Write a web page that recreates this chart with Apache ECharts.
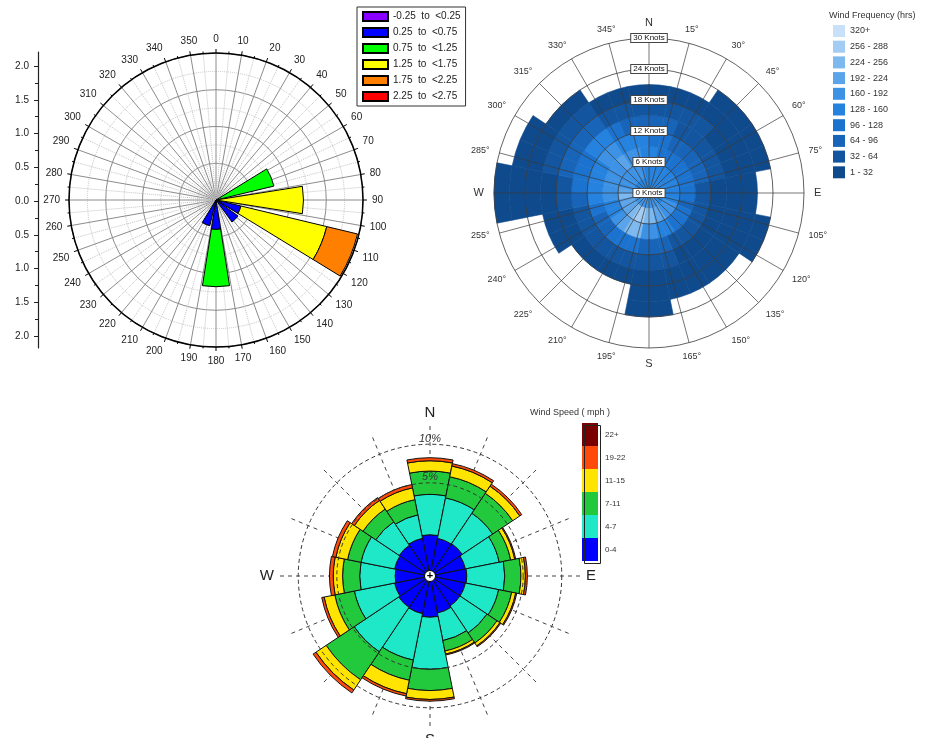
<!DOCTYPE html>
<html><head><meta charset="utf-8">
<script src="https://cdn.jsdelivr.net/npm/echarts@6/dist/echarts.min.js"></script>
<style>html,body{margin:0;padding:0;background:#fff}#c{width:929px;height:738px}</style>
</head><body><div id="c"></div>
<script>
// ================= DATA =================
// Chart 1 (top-left): 16 directions, stacked classes
const dirs16 = ['N','NNE','NE','ENE','E','ESE','SE','SSE','S','SSW','SW','WSW','W','WNW','NW','NNW'];
const r1Classes = ['-0.25  to  <0.25','0.25  to  <0.75','0.75  to  <1.25','1.25  to  <1.75','1.75  to  <2.25','2.25  to  <2.75'];
const r1Purple = [0,0,0,0,0,0,0,0,0,0,0,0,0,0,0,0];
const r1Blue   = [0,0,0,0,0,0.35,0.37,0,0.40,0.36,0,0,0,0,0,0];
const r1Green  = [0,0,0,0.81,0,0,0,0,0.78,0,0,0,0,0,0,0];
const r1Yellow = [0,0,0,0,1.19,1.20,0,0,0,0,0,0,0,0,0,0];
const r1Orange = [0,0,0,0,0,0.43,0,0,0,0,0,0,0,0,0,0];
const r1Red    = [0,0,0,0,0,0,0,0,0,0,0,0,0,0,0,0];

// Chart 2 (top-right): 32 direction bins x 3-knot speed rings, frequency (hrs)
const dirs32 = Array.from({length:32},(_,i)=>'b'+i);
const ring0_3   = [144,144,144,144,144,144,144,144,144,144,144,144,176,176,176,176,176,176,176,176,176,176,176,176,176,144,144,144,144,144,144,144];
const ring3_6   = [144,144,144,144,144,144,144,144,144,144,176,176,176,208,208,240,240,272,272,240,208,208,208,240,208,176,176,176,176,176,176,144];
const ring6_9   = [144,112,112,112,112,112,112,112,112,80,112,112,112,144,144,176,176,240,240,208,176,144,144,176,176,176,176,176,208,176,176,144];
const ring9_12  = [112,112,80,80,80,80,80,48,48,48,48,48,48,48,80,80,80,112,112,112,80,80,112,144,144,144,144,176,176,144,144,144];
const ring12_15 = [80,80,48,48,48,48,48,16,16,16,16,16,16,16,48,48,48,48,48,48,48,48,48,80,112,112,112,144,144,112,80,80];
const ring15_18 = [48,48,48,48,16,16,16,16,16,16,16,16,16,16,16,16,16,16,16,16,16,16,16,48,48,80,80,80,80,48,48,48];
const ring18_21 = [16,16,16,16,16,16,16,16,16,16,16,16,16,16,16,16,16,0,0,0,0,16,16,16,16,48,48,48,48,16,16,16];
const ring21_24 = [0,0,0,16,16,16,16,0,0,16,16,0,0,0,0,16,16,0,0,0,0,0,0,16,16,16,16,16,16,0,0,0];
const ring24_27 = [0,0,0,0,0,0,0,0,0,0,0,0,0,0,0,0,0,0,0,0,0,0,0,16,16,16,16,0,0,0,0,0];
const ring27_30 = [0,0,0,0,0,0,0,0,0,0,0,0,0,0,0,0,0,0,0,0,0,0,0,16,16,0,0,0,0,0,0,0];
const freqLegend = ['320+','256 - 288','224 - 256','192 - 224','160 - 192','128 - 160','96 - 128','64 - 96','32 - 64','1 - 32'];
const freqLower  = [320,256,224,192,160,128,96,64,32,1];

// Chart 3 (bottom): 16 directions, % frequency by wind speed class (mph)
const wsLabels = ['0-4','4-7','7-11','11-15','19-22','22+'];
const ws0_4   = [0.98,0.85,0.87,0.75,0.78,0.75,0.75,0.82,0.98,0.85,0.82,0.75,0.70,0.75,0.79,0.85];
const ws4_7   = [2.86,2.80,2.41,2.12,2.44,2.07,1.96,1.68,4.03,3.38,3.97,2.68,2.15,2.10,1.66,1.39];
const ws7_11  = [2.50,2.25,2.42,1.03,1.54,1.18,1.03,0.87,2.55,2.28,4.19,2.00,1.55,1.22,1.29,1.25];
const ws11_15 = [1.31,1.34,1.02,0.40,0.48,0.40,0.33,0.28,1.22,1.79,1.86,1.29,0.99,1.24,1.02,1.16];
const ws19_22 = [0.41,0.32,0.30,0.10,0.22,0.11,0.10,0.09,0.24,0.33,0.55,0.30,0.43,0.39,0.36,0.36];
const ws22p   = [0,0,0,0,0,0,0,0,0,0,0,0,0,0,0,0];
const pctRings = [5,10];

// ================= STYLE =================
const FONT = 'Liberation Sans, Arial, sans-serif';
const r1Colors = ['#8a00ff','#0000ff','#00ff00','#ffff00','#ff8000','#ff0000'];
const freqColors = ['#c9e1f8','#a2ccf3','#7db8ef','#5ba4ea','#3d92e6','#2582de','#1b72cf','#1764b8','#13569f','#0f4a8c'];
const wsColors = ['#0000ff','#1fe8c8','#22c93c','#ffe400','#ff4a0a','#7a0000'];
const RING_W = 3;

function freqColor(f){ for(let i=0;i<freqLower.length;i++){ if(f>=freqLower[i]) return freqColors[i]; } return null; }

const series = [];
// ---- chart 1 bars
[r1Purple,r1Blue,r1Green,r1Yellow,r1Orange,r1Red].forEach((arr,i)=>{
  series.push({type:'bar', name:r1Classes[i], coordinateSystem:'polar', polarIndex:1, stack:'r1',
    barCategoryGap:'20%', silent:true,
    itemStyle:{color:r1Colors[i], borderColor:'#000', borderWidth:1},
    data: arr.map(v=> v>0 ? v : '-')});
});
// ---- chart 2 cells
[ring0_3,ring3_6,ring6_9,ring9_12,ring12_15,ring15_18,ring18_21,ring21_24,ring24_27,ring27_30].forEach((arr,i)=>{
  series.push({type:'bar', name:'ring'+i, coordinateSystem:'polar', polarIndex:2, stack:'r2',
    barCategoryGap:0, silent:true,
    data: arr.map(f=> f>0 ? {value:RING_W, itemStyle:{color:freqColor(f), borderColor:freqColor(f), borderWidth:0.6}} : '-')});
});
freqLegend.forEach((n,i)=>{
  series.push({type:'scatter', name:n, coordinateSystem:'polar', polarIndex:3, data:[], itemStyle:{color:freqColors[i], opacity:1}});
});
// ---- chart 3 stacked bars on a square-root radial scale
const wsArrs = [ws0_4,ws4_7,ws7_11,ws11_15,ws19_22,ws22p];
const cum = dirs16.map(()=>0);
wsArrs.forEach((arr,k)=>{
  const data = arr.map((v,d)=>{
    const prev = cum[d]; cum[d] += v;
    return v>0 ? Math.sqrt(cum[d]) - Math.sqrt(prev) : '-';
  });
  series.push({type:'bar', name:wsLabels[k], coordinateSystem:'polar', polarIndex:4, stack:'r3',
    barCategoryGap:0, silent:true, z:3,
    itemStyle:{color:wsColors[k], borderColor:'#111', borderWidth:1}, data});
});
series.push({type:'scatter', coordinateSystem:'polar', polarIndex:4, data:[[0,'N']], symbolSize:11, z:20, silent:true,
  itemStyle:{color:'#fff', borderColor:'#000', borderWidth:1, opacity:1},
  label:{show:true, position:'inside', formatter:'+', color:'#000', fontSize:11, fontWeight:'bold', offset:[0,-0.5]}});
// ---- left radial scale of chart 1
series.push({type:'line', xAxisIndex:0, yAxisIndex:0, data:[], silent:true});

const C1 = [216,200], R1 = 147;
const C2 = [649,193], R2 = 155;
const C3 = [430,576], R3 = 150;
const SQ_MAX = 3.6;

const option = {
  animation:false,
  backgroundColor:'#fff',
  textStyle:{fontFamily:FONT},
  title:[
    {text:'Wind Frequency (hrs)', left:829, top:11, padding:0, textStyle:{fontSize:9, fontWeight:'normal', color:'#333', fontFamily:FONT}},
    {text:'Wind Speed ( mph )', left:530, top:408, padding:0, textStyle:{fontSize:9, fontWeight:'normal', color:'#333', fontFamily:FONT}}
  ],
  legend:[
    {data:r1Classes, left:357, top:7, orient:'vertical', icon:'rect', itemWidth:25, itemHeight:9, itemGap:5,
     padding:[4,5,4,5], borderColor:'#333', borderWidth:1, selectedMode:false,
     textStyle:{fontSize:10, color:'#222', fontFamily:FONT}},
    {data:freqLegend, left:833, top:25, orient:'vertical', icon:'rect', itemWidth:12, itemHeight:12, itemGap:3.7,
     padding:0, selectedMode:false, itemStyle:{opacity:1}, textStyle:{fontSize:9, color:'#333', fontFamily:FONT}},
    {data:wsLabels.slice().reverse(), left:582, top:423, orient:'vertical', icon:'rect', itemWidth:16, itemHeight:23, itemGap:0,
     padding:0, selectedMode:false, itemStyle:{borderWidth:0}, textStyle:{fontSize:8, color:'#333', fontFamily:FONT, padding:[0,0,0,2]}}
  ],
  graphic:[
    {type:'rect', left:582, top:423, shape:{width:16, height:138}, style:{fill:'none', stroke:'#222', lineWidth:1}, z:100}
  ],
  grid:[
    {left:38, top:66, width:2, height:270},
    {left:38, top:52, width:2, height:296}
  ],
  xAxis:[{gridIndex:0, show:false}, {gridIndex:1, show:false}],
  yAxis:[
    {gridIndex:0, type:'value', min:-2, max:2, interval:0.5,
     axisLine:{show:false}, splitLine:{show:false},
     axisTick:{show:true, length:4, lineStyle:{color:'#222'}},
     minorTick:{show:true, splitNumber:2, length:3, lineStyle:{color:'#222'}},
     axisLabel:{margin:9, fontSize:10, color:'#222', formatter:v=>Math.abs(v).toFixed(1)}},
    {gridIndex:1, type:'value', min:0, max:1, axisLine:{show:true, lineStyle:{color:'#222', width:1.2}},
     axisTick:{show:false}, axisLabel:{show:false}, splitLine:{show:false}}
  ],
  polar:[
    {center:C1, radius:R1},
    {center:C1, radius:R1},
    {center:C2, radius:R2},
    {center:C2, radius:R2},
    {center:C3, radius:R3},
    {center:C3, radius:R3}
  ],
  angleAxis:[
    {polarIndex:0, type:'value', min:0, max:360, interval:10, startAngle:90, clockwise:true,
     axisLine:{show:true, lineStyle:{color:'#000', width:1.5}},
     axisTick:{show:true, length:4, lineStyle:{color:'#000'}},
     minorTick:{show:true, splitNumber:2, length:2, lineStyle:{color:'#000'}},
     splitLine:{show:true, lineStyle:{color:'#8c8c8c', width:1}},
     minorSplitLine:{show:true, lineStyle:{color:'#c4c4c4', type:'dotted'}},
     axisLabel:{margin:9, fontSize:10, color:'#222', formatter:v=> v===360 ? '' : String(v)}},
    {polarIndex:1, type:'category', data:dirs16, startAngle:101.25, clockwise:true, show:false},
    {polarIndex:2, type:'category', data:dirs32, startAngle:90, clockwise:true, show:false},
    {polarIndex:3, type:'value', min:0, max:360, interval:15, startAngle:90, clockwise:true, z:5,
     axisLine:{show:false}, axisTick:{show:false},
     splitLine:{show:true, lineStyle:{color:'#3a3a3a', width:0.7}},
     axisLabel:{margin:10, fontSize:9, color:'#333',
       formatter:v=>({0:'{c|N}',90:'{c|E}',180:'{c|S}',270:'{c|W}',360:''})[v] ?? (v+'°'),
       rich:{c:{fontSize:11, color:'#333'}}}},
    {polarIndex:4, type:'category', data:dirs16, startAngle:101.25, clockwise:true, show:false},
    {polarIndex:5, type:'value', min:0, max:360, interval:22.5, startAngle:90, clockwise:true, z:0,
     axisLine:{show:false}, axisTick:{show:false},
     splitLine:{show:true, lineStyle:{color:'#444', type:[4,4], width:1}},
     axisLabel:{margin:6, fontSize:15, color:'#222', formatter:v=>({0:'N',90:'E',180:'S',270:'W'})[v] || ''}}
  ],
  radiusAxis:[
    {polarIndex:0, type:'value', min:0, max:2, interval:0.5,
     axisLine:{show:false}, axisTick:{show:false}, axisLabel:{show:false},
     splitLine:{show:true, lineStyle:{color:'#8c8c8c'}},
     minorTick:{show:false, splitNumber:2},
     minorSplitLine:{show:true, lineStyle:{color:'#c4c4c4', type:'dotted'}}},
    {polarIndex:1, type:'value', min:0, max:2, show:false},
    {polarIndex:2, type:'value', min:0, max:30, show:false},
    {polarIndex:3, type:'value', min:0, max:30, interval:6, z:6,
     axisLine:{show:false}, axisTick:{show:false},
     splitLine:{show:true, lineStyle:{color:'#3a3a3a', width:0.8}},
     axisLabel:{show:true, margin:0, align:'center', verticalAlign:'middle', fontSize:8, color:'#111',
       backgroundColor:'#fff', borderColor:'#444', borderWidth:1, padding:[0,2,0,2],
       formatter:v=>v+' Knots'}},
    {polarIndex:4, type:'value', min:0, max:SQ_MAX, show:false},
    {polarIndex:5, type:'value', min:0, max:SQ_MAX, z:10,
     axisLine:{show:false},
     axisTick:{show:false, customValues:pctRings.map(p=>Math.sqrt(p))},
     axisLabel:{show:true, customValues:pctRings.map(p=>Math.sqrt(p)), margin:0, align:'center', verticalAlign:'bottom',
       fontSize:11, fontStyle:'italic', color:'#333', formatter:v=>Math.round(v*v)+'%'},
     splitLine:{show:true, lineStyle:{color:'#333', type:[4,3], width:1}}}
  ],
  series
};
const chart = echarts.init(document.getElementById('c'));
chart.setOption(option);
</script>
</body></html>
